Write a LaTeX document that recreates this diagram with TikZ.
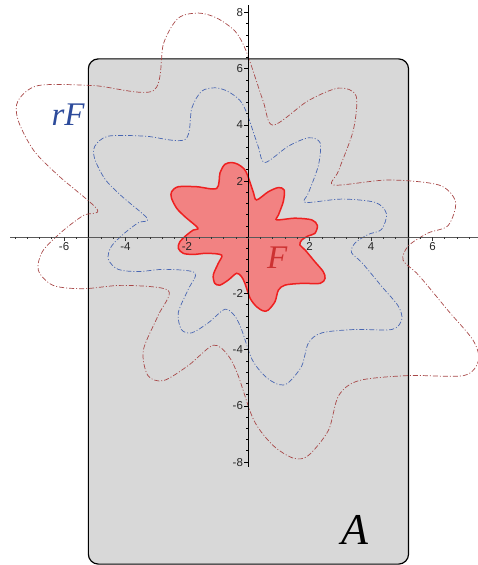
\documentclass[tikz,border=0pt]{standalone}
\usepackage{fontspec}
\setmainfont{Liberation Serif}
\newfontfamily\tickfont{Liberation Sans}
\usetikzlibrary{calc}
\definecolor{panelgray}{RGB}{216,216,216}
\definecolor{flowerfill}{RGB}{242,130,130}
\definecolor{flowerline}{RGB}{238,32,32}
\definecolor{curveblue}{RGB}{72,102,178}
\definecolor{curvered}{RGB}{168,72,72}
\definecolor{labelred}{RGB}{205,50,50}
\definecolor{labelblue}{RGB}{45,75,155}
\tikzset{
  panel/.style={draw=black, line width=1.2pt, fill=panelgray, rounded corners=10pt},
  flower/.style={draw=flowerline, line width=1.5pt, fill=flowerfill},
  scaledcurve/.style={line width=0.7pt, dash pattern=on 5pt off 2pt on 1pt off 2pt},
  axisline/.style={line width=0.8pt, draw=black!80},
  ticklabel/.style={font=\tickfont\fontsize{11.5}{12}\selectfont, text=black!85, inner sep=1pt},
  setlabel/.style={font=\itshape\fontsize{33}{33}\selectfont, inner sep=0pt}
}
% outline of the set F
\newcommand{\flowerpath}{plot[smooth cycle] coordinates {
  (-1.03,1.74) (-0.92,2.30) (-0.76,2.60) (-0.54,2.66) (-0.34,2.60) (-0.14,2.44)
  (-0.02,2.20) (0.16,1.62) (0.27,1.33) (0.65,1.62) (0.98,1.77) (1.17,1.68)
  (1.14,1.27) (0.98,0.79) (0.93,0.62) (1.52,0.68) (2.07,0.62) (2.25,0.42)
  (2.17,0.14) (1.95,0.05) (1.74,-0.10) (1.68,-0.27) (1.85,-0.45) (2.17,-0.87)
  (2.44,-1.22) (2.50,-1.46) (2.34,-1.64) (1.74,-1.64) (1.20,-1.70) (0.98,-1.88)
  (0.87,-2.29) (0.65,-2.59) (0.49,-2.62) (0.27,-2.47) (0.06,-2.17) (-0.11,-1.64)
  (-0.22,-1.40) (-0.38,-1.28) (-0.65,-1.52) (-0.92,-1.70) (-1.09,-1.64) (-1.14,-1.34)
  (-0.98,-0.93) (-0.87,-0.63) (-1.36,-0.57) (-1.79,-0.61) (-2.12,-0.57) (-2.28,-0.39)
  (-2.23,-0.16) (-2.01,0.08) (-1.79,0.26) (-1.64,0.33) (-2.06,0.73) (-2.33,1.03)
  (-2.50,1.39) (-2.50,1.62) (-2.28,1.80) (-1.68,1.80)}}

\begin{document}
\begin{tikzpicture}[x=30.7pt, y=28.1pt]
\useasboundingbox (-8.088,-11.662) rectangle (7.482,8.445);

% --- Panel A ---
\draw[panel] (-5.21,-11.63) rectangle (5.22,6.35);

% --- Scaled copies rF ---
\foreach \r/\col in {3/curvered, 2/curveblue} {
  \begin{scope}[scale=\r]
    \draw[scaledcurve, draw=\col] \flowerpath;
  \end{scope}
}

% --- The set F ---
\draw[flower] \flowerpath;

% --- Axes ---
\draw[axisline, line width=1pt, draw=black!65] (-7.76,0) -- (7.48,0);
\draw[axisline, draw=black] (0,-8.17) -- (0,8.26);
\foreach \i in {-19,...,18}
  \draw[axisline] (\i*0.4,0) -- ++(0,-2pt);
\foreach \i in {-20,...,20}
  \draw[axisline, draw=black] (0,\i*0.4) -- ++(-2pt,0);
\foreach \v in {-6,-4,-2,2,4,6}
  \draw[axisline] (\v,0) -- ++(0,-4pt) node[ticklabel, below] (xl\v) {\v};
\foreach \v in {-8,-6,-4,-2,2,4,6,8}
  \draw[axisline, draw=black] (0,\v) -- ++(-4pt,0) node[ticklabel, left] (yl\v) {\v};

% --- Labels ---
\node[setlabel, text=labelblue] (rflabel) at (-5.87,4.35) {rF};
\node[setlabel, text=labelred] (flabel) at (0.94,-0.74) {F};
\node[setlabel, font=\itshape\fontsize{44}{44}\selectfont] (alabel) at (3.46,-10.42) {A};

\end{tikzpicture}
\end{document}
